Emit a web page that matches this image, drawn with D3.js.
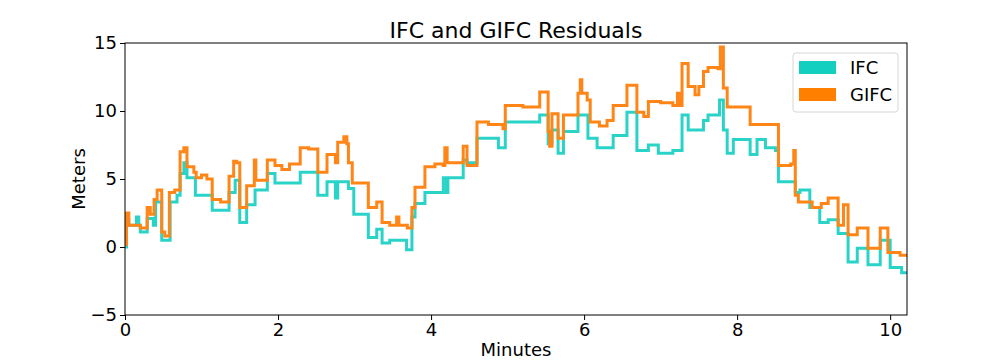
<!DOCTYPE html>
<html>
<head>
<meta charset="utf-8">
<script src="https://cdn.jsdelivr.net/npm/d3@7"></script>
<style>
  body { margin: 0; background: #fff; }
  text { font-family: "DejaVu Sans", sans-serif; fill: #000; }
</style>
</head>
<body>
<svg id="chart" width="1008" height="360"></svg>
<script>
// ---- data (step breakpoints: minute, residual in meters) ----
const minutesIFC = [0.00,0.02,0.05,0.15,0.18,0.20,0.29,0.37,0.40,0.48,0.59,0.68,0.72,0.77,0.81,0.92,1.14,1.36,1.44,1.50,1.59,1.70,1.86,1.96,2.29,2.52,2.64,2.75,2.78,2.92,2.99,3.18,3.29,3.36,3.46,3.68,3.75,3.79,3.92,4.16,4.20,4.22,4.42,4.47,4.60,4.88,4.97,5.42,5.53,5.58,5.66,5.73,5.92,6.05,6.17,6.38,6.56,6.69,6.84,6.97,7.16,7.28,7.36,7.56,7.62,7.77,7.82,7.87,7.95,8.17,8.26,8.37,8.50,8.54,8.76,8.82,8.95,9.08,9.19,9.32,9.45,9.57,9.71,9.87,10.00,10.15,10.22];
const valuesIFC  = [0.0,2.0,1.6,2.2,1.6,1.1,2.1,1.6,3.3,0.5,3.3,3.8,5.4,6.2,5.1,3.8,2.7,4.0,4.9,1.8,3.1,4.2,5.4,4.7,5.5,3.8,4.8,3.6,4.8,4.3,2.4,0.7,1.3,0.3,0.5,-0.2,2.2,3.2,4.0,5.1,4.0,5.1,6.4,6.2,8.0,7.3,9.2,9.7,7.6,8.6,6.9,8.5,9.7,8.0,7.3,8.2,9.9,7.1,7.5,6.9,7.1,9.7,8.6,9.3,9.7,10.8,8.6,6.9,7.9,6.8,7.9,7.3,7.1,4.8,4.0,4.2,2.9,1.8,2.0,1.0,-1.1,-0.1,-1.3,0.5,-1.5,-1.9,-1.9];

const minutesGIFC = [0.00,0.02,0.05,0.20,0.29,0.33,0.38,0.42,0.48,0.52,0.58,0.65,0.72,0.77,0.81,0.90,0.93,1.00,1.07,1.14,1.25,1.36,1.42,1.46,1.50,1.59,1.69,1.71,1.86,1.96,2.05,2.15,2.29,2.40,2.52,2.64,2.75,2.78,2.86,2.90,2.92,2.97,3.18,3.29,3.36,3.46,3.55,3.58,3.69,3.75,3.79,3.92,4.05,4.16,4.18,4.21,4.42,4.47,4.60,4.75,4.94,4.97,5.20,5.42,5.53,5.55,5.58,5.66,5.73,5.92,5.95,5.97,6.04,6.08,6.20,6.30,6.38,6.56,6.69,6.78,6.84,7.00,7.16,7.22,7.25,7.28,7.36,7.45,7.50,7.56,7.62,7.75,7.78,7.82,7.87,8.17,8.50,8.54,8.70,8.74,8.76,8.80,8.98,9.10,9.19,9.32,9.39,9.45,9.57,9.71,9.87,9.97,10.13,10.22];
const valuesGIFC  = [0.2,2.5,1.6,1.4,2.9,2.4,3.5,4.2,1.1,0.8,4.0,4.2,7.0,7.3,5.9,5.5,5.1,5.3,5.0,3.5,3.3,5.2,6.3,6.2,2.9,4.5,6.4,4.9,6.4,6.0,5.7,6.1,7.3,7.2,5.5,6.8,6.2,7.7,8.1,7.6,6.2,4.7,2.9,3.3,1.8,1.6,2.2,1.6,1.4,2.9,4.4,5.9,6.1,6.0,7.3,6.2,7.4,6.0,9.2,9.0,8.7,10.4,10.3,11.4,8.5,7.4,9.8,8.0,9.7,11.3,12.3,11.3,10.8,9.2,8.9,9.3,10.4,11.9,9.9,9.6,10.7,10.6,10.4,11.3,10.4,13.5,11.8,11.2,11.8,12.9,13.2,13.1,14.7,11.7,10.3,9.0,9.0,6.0,6.1,7.1,3.8,3.3,2.9,3.2,3.6,1.6,3.1,0.9,1.4,-0.1,1.4,-0.4,-0.6,-0.6];

const xTicks = [0, 2, 4, 6, 8, 10];
const yTicks = [-5, 0, 5, 10, 15];
const seriesNames = ["IFC", "GIFC"];
const lineColors = ["#2ad3c7", "#ff8516"];
const legendColors = ["#12cfc0", "#ff7f00"];

// ---- layout ----
const svg = d3.select("#chart");
const L = 125, R = 907, T = 43, B = 315;
const x = d3.scaleLinear().domain([0, 10.22]).range([L, R]);
const y = d3.scaleLinear().domain([-5, 15]).range([B, T]);

const series = [
  d3.zip(minutesIFC, valuesIFC),
  d3.zip(minutesGIFC, valuesGIFC)
];

const line = d3.line().x(d => x(d[0])).y(d => y(d[1])).curve(d3.curveStepAfter);

svg.append("clipPath").attr("id", "clip")
  .append("rect").attr("x", L).attr("y", T).attr("width", R - L).attr("height", B - T);

const g = svg.append("g").attr("clip-path", "url(#clip)");
series.forEach((s, i) => {
  g.append("path").datum(s)
    .attr("d", line)
    .attr("fill", "none")
    .attr("stroke", lineColors[i])
    .attr("stroke-width", 3)
    .attr("stroke-linejoin", "miter");
});

// axes
const xAxis = d3.axisBottom(x).tickValues(xTicks).tickSize(5).tickPadding(3).tickFormat(d3.format("d"));
const yAxis = d3.axisLeft(y).tickValues(yTicks).tickSize(5).tickPadding(3).tickFormat(d3.format("d"));

const gx = svg.append("g").attr("transform", `translate(0,${B})`).call(xAxis);
const gy = svg.append("g").attr("transform", `translate(${L},0)`).call(yAxis);
[gx, gy].forEach(a => {
  a.select(".domain").remove();
  a.selectAll("text").style("font-size", "18px").attr("fill", "#000");
  a.selectAll("line").attr("stroke", "#000").attr("stroke-width", 1);
});

// frame
svg.append("rect").attr("x", L).attr("y", T).attr("width", R - L).attr("height", B - T)
  .attr("fill", "none").attr("stroke", "#000").attr("stroke-width", 1);

// title & labels
svg.append("text").attr("x", (L + R) / 2).attr("y", 38).attr("text-anchor", "middle")
  .style("font-size", "22px").text("IFC and GIFC Residuals");
svg.append("text").attr("x", (L + R) / 2).attr("y", 356).attr("text-anchor", "middle")
  .style("font-size", "18px").text("Minutes");
svg.append("text").attr("transform", `translate(85,${(T + B) / 2}) rotate(-90)`)
  .attr("text-anchor", "middle").style("font-size", "18px").text("Meters");

// legend
const lg = svg.append("g");
lg.append("rect").attr("x", 793).attr("y", 53).attr("width", 105).attr("height", 59)
  .attr("rx", 3).attr("fill", "#fff").attr("fill-opacity", 0.8)
  .attr("stroke", "#d6d6d6").attr("stroke-width", 1);
seriesNames.forEach((name, i) => {
  const yy = 61 + i * 27;
  lg.append("rect").attr("x", 799).attr("y", yy).attr("width", 37).attr("height", 13)
    .attr("fill", legendColors[i]);
  lg.append("text").attr("x", 850).attr("y", yy + 13).style("font-size", "18px").text(name);
});
</script>
</body>
</html>
